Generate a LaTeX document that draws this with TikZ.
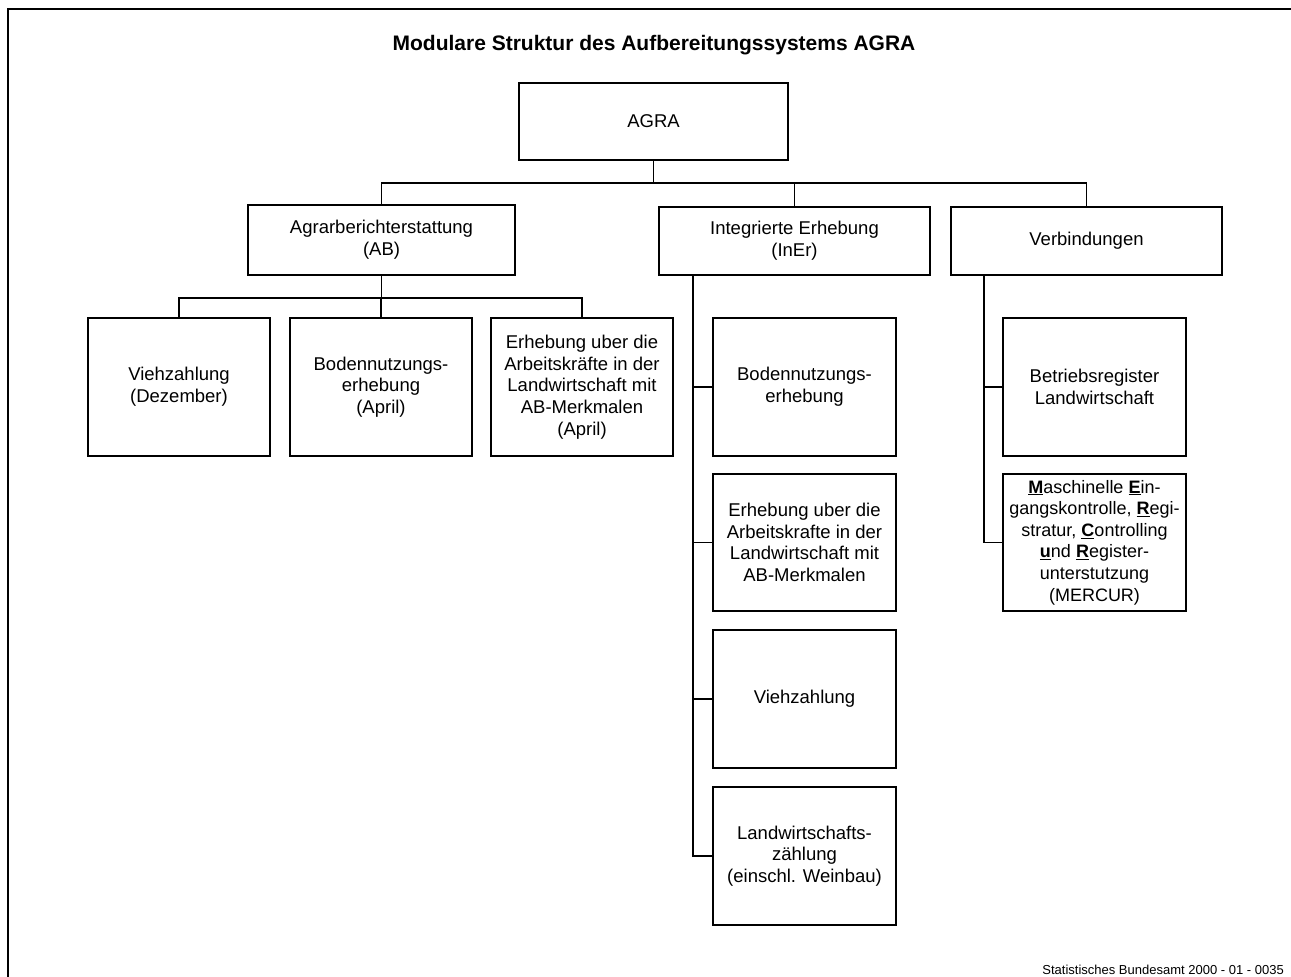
\documentclass[tikz,border=0pt]{standalone}
\usepackage{fontspec}
\setmainfont{Liberation Sans}
\begin{document}
\begin{tikzpicture}[x=1pt,y=-1pt,
  line width=1.8pt,
  box/.style={draw,rectangle,align=center,inner sep=0pt,
    font=\fontsize{18.5}{21.7}\selectfont},
  conn/.style={line width=1.8pt}]
\useasboundingbox (0,0) rectangle (1291,977);
% frame
\draw (1291,9) -- (8,9) -- (8,977);
% title
\node[font=\fontsize{21}{25}\selectfont\bfseries] (title) at (654,45) {Modulare Struktur des Aufbereitungssystems AGRA};
% top
\node[box,minimum width=269,minimum height=77] (agra) at (653.5,121.5) {AGRA};
\node[box,minimum width=267,minimum height=70] (ab) at (381.5,240) {Agrarberichterstattung\\(AB)};
\node[box,minimum width=271,minimum height=68] (iner) at (794.5,241) {Integrierte Erhebung\\(InEr)};
\node[box,minimum width=271,minimum height=68] (verb) at (1086.5,241) {Verbindungen};
% AB children
\node[box,minimum width=182,minimum height=138] (a1) at (179,387) {Viehzahlung\\(Dezember)};
\node[box,minimum width=182,minimum height=138] (a2) at (381,387) {Bodennutzungs-\\erhebung\\(April)};
\node[box,minimum width=182,minimum height=138] (a3) at (582,387) {Erhebung uber die\\Arbeitskräfte in der\\Landwirtschaft mit\\AB-Merkmalen\\(April)};
% InEr children
\node[box,minimum width=183,minimum height=138] (i1) at (804.5,387) {Bodennutzungs-\\erhebung};
\node[box,minimum width=183,minimum height=137] (i2) at (804.5,542.5) {Erhebung uber die\\Arbeitskrafte in der\\Landwirtschaft mit\\AB-Merkmalen};
\node[box,minimum width=183,minimum height=138] (i3) at (804.5,699) {Viehzahlung};
\node[box,minimum width=183,minimum height=138] (i4) at (804.5,856) {Landwirtschafts-\\zählung\\(einschl. Weinbau)};
% Verbindungen children
\node[box,minimum width=183,minimum height=138] (v1) at (1094.5,387) {Betriebsregister\\Landwirtschaft};
\node[box,minimum width=183,minimum height=137,font=\fontsize{18}{21.6}\selectfont] (v2) at (1094.5,542.5) {\textbf{\underline{M}}aschinelle \textbf{\underline{E}}in-\\gangskontrolle, \textbf{\underline{R}}egi-\\stratur, \textbf{\underline{C}}ontrolling\\\textbf{\underline{u}}nd \textbf{\underline{R}}egister-\\unterstutzung\\(MERCUR)};
% footer
\node[anchor=east,font=\fontsize{13}{15}\selectfont] (foot) at (1288,970) {Statistisches Bundesamt 2000 - 01 - 0035};
% connectors
\coordinate (bus) at (653.5,183);
\draw[conn] (agra.south) -- (bus);
\draw[conn] (bus) -| (ab.north);
\draw[conn] (bus) -| (iner.north);
\draw[conn] (bus) -| (verb.north);
\coordinate (busA) at (381.5,298);
\draw[conn] (ab.south) -- (busA);
\draw[conn] (busA) -| (a1.north);
\draw[conn] (busA) -| (a2.north);
\draw[conn] (busA) -| (a3.north);
\coordinate (sI) at (693,275);
\draw[conn] (sI) |- (i1.west);
\draw[conn] (sI) |- (i2.west);
\draw[conn] (sI) |- (i3.west);
\draw[conn] (sI) |- (i4.west);
\coordinate (sV) at (984,275);
\draw[conn] (sV) |- (v1.west);
\draw[conn] (sV) |- (v2.west);
\end{tikzpicture}
\end{document}
